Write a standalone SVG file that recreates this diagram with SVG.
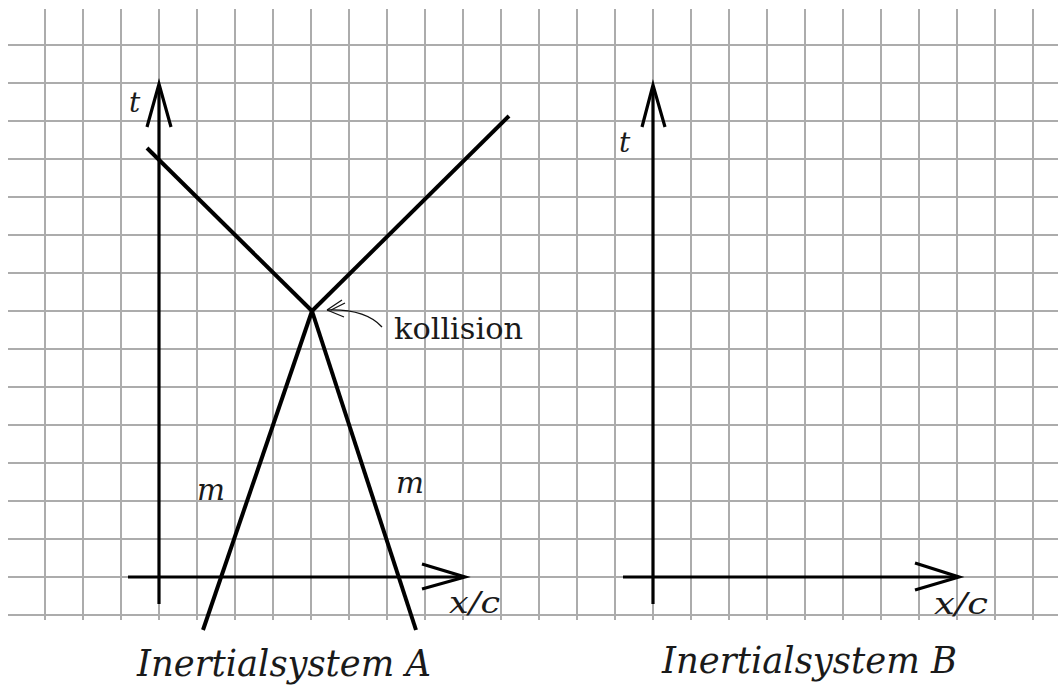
<svg xmlns="http://www.w3.org/2000/svg" width="1058" height="686" viewBox="0 0 1058 686">
<style>
.grid line{stroke:#acacac;stroke-width:2}
.axis{stroke:#000;stroke-width:3.2;fill:none;stroke-linecap:butt}
.wl{stroke:#000;stroke-width:4;fill:none;stroke-linecap:butt}
.lbl{font-family:"DejaVu Serif","Liberation Serif",serif;font-style:italic;fill:#1a1a1a}
.up{font-family:"DejaVu Serif","Liberation Serif",serif;fill:#1a1a1a}
</style>
<rect width="1058" height="686" fill="#fff"/>
<g class="grid" id="grid">
<line x1="45" y1="9" x2="45" y2="620"/><line x1="83" y1="9" x2="83" y2="620"/><line x1="121" y1="9" x2="121" y2="620"/><line x1="159" y1="9" x2="159" y2="620"/><line x1="197" y1="9" x2="197" y2="620"/><line x1="235" y1="9" x2="235" y2="620"/><line x1="273" y1="9" x2="273" y2="620"/><line x1="311" y1="9" x2="311" y2="620"/><line x1="349" y1="9" x2="349" y2="620"/><line x1="387" y1="9" x2="387" y2="620"/><line x1="425" y1="9" x2="425" y2="620"/><line x1="463" y1="9" x2="463" y2="620"/><line x1="501" y1="9" x2="501" y2="620"/><line x1="539" y1="9" x2="539" y2="620"/><line x1="577" y1="9" x2="577" y2="620"/><line x1="615" y1="9" x2="615" y2="620"/><line x1="653" y1="9" x2="653" y2="620"/><line x1="691" y1="9" x2="691" y2="620"/><line x1="729" y1="9" x2="729" y2="620"/><line x1="767" y1="9" x2="767" y2="620"/><line x1="805" y1="9" x2="805" y2="620"/><line x1="843" y1="9" x2="843" y2="620"/><line x1="881" y1="9" x2="881" y2="620"/><line x1="919" y1="9" x2="919" y2="620"/><line x1="957" y1="9" x2="957" y2="620"/><line x1="995" y1="9" x2="995" y2="620"/><line x1="1033" y1="9" x2="1033" y2="620"/>
<line x1="8" y1="45" x2="1058" y2="45"/><line x1="8" y1="83" x2="1058" y2="83"/><line x1="8" y1="121" x2="1058" y2="121"/><line x1="8" y1="159" x2="1058" y2="159"/><line x1="8" y1="197" x2="1058" y2="197"/><line x1="8" y1="235" x2="1058" y2="235"/><line x1="8" y1="273" x2="1058" y2="273"/><line x1="8" y1="311" x2="1058" y2="311"/><line x1="8" y1="349" x2="1058" y2="349"/><line x1="8" y1="387" x2="1058" y2="387"/><line x1="8" y1="425" x2="1058" y2="425"/><line x1="8" y1="463" x2="1058" y2="463"/><line x1="8" y1="501" x2="1058" y2="501"/><line x1="8" y1="539" x2="1058" y2="539"/><line x1="8" y1="577" x2="1058" y2="577"/><line x1="8" y1="615" x2="1058" y2="615"/>
</g>
<g id="connectors">
<g id="axes-A">
<line class="axis" x1="159" y1="604" x2="159" y2="85"/>
<polyline class="axis" points="147,127 159,84 171,127"/>
<line class="axis" x1="128" y1="577" x2="464" y2="577"/>
<polyline class="axis" points="422,564 465,577 422,589"/>
</g>
<g id="axes-B">
<line class="axis" x1="653" y1="604" x2="653" y2="86"/>
<polyline class="axis" points="642,127 653,85 665,127"/>
<line class="axis" x1="623" y1="577" x2="958" y2="577"/>
<polyline class="axis" points="915,563 959,577 915,590"/>
</g>
<g id="worldlines">
<line class="wl" x1="147" y1="148" x2="312" y2="311"/>
<line class="wl" x1="312" y1="311" x2="509" y2="116"/>
<line class="wl" x1="312" y1="311" x2="203" y2="630"/>
<line class="wl" x1="312" y1="311" x2="416" y2="630"/>
</g>
<g id="kollision-arrow" fill="none" stroke="#111" stroke-width="1.3">
<path d="M382,327 C372,316 356,309 327,310"/>
<path d="M327,310 L342,300 M327,310 L344,317 M331,310 L345,303"/>
</g>
</g>
<g id="labels">
<text class="lbl" x="129" y="112" font-size="28">t</text>
<text class="lbl" x="619" y="152" font-size="28">t</text>
<text class="lbl" x="449" y="613" font-size="30" textLength="51" lengthAdjust="spacingAndGlyphs">x/c</text>
<text class="lbl" x="934" y="614" font-size="30" textLength="54" lengthAdjust="spacingAndGlyphs">x/c</text>
<text class="lbl" x="197" y="500" font-size="30" textLength="28" lengthAdjust="spacingAndGlyphs">m</text>
<text class="lbl" x="396" y="493" font-size="30" textLength="28" lengthAdjust="spacingAndGlyphs">m</text>
<text class="up" x="394" y="339" font-size="29" textLength="129" lengthAdjust="spacingAndGlyphs">kollision</text>
<text class="lbl" x="137" y="676" font-size="38" textLength="294" lengthAdjust="spacingAndGlyphs">Inertialsystem A</text>
<text class="lbl" x="662" y="673" font-size="38" textLength="295" lengthAdjust="spacingAndGlyphs">Inertialsystem B</text>
</g>
</svg>
